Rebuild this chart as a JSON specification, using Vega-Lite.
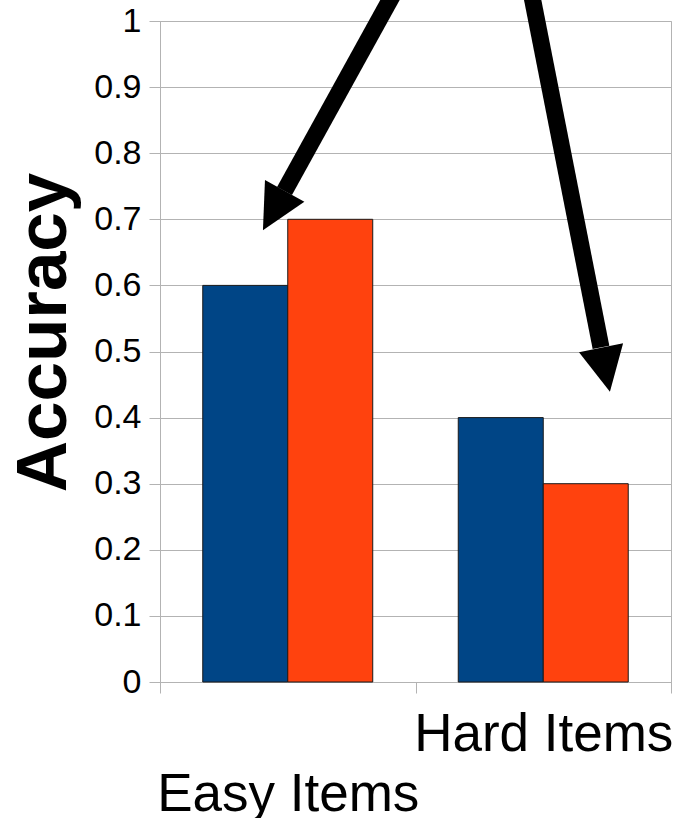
{
  "$schema": "https://vega.github.io/schema/vega-lite/v6.json",
  "width": 511,
  "height": 661,
  "autosize": "none",
  "padding": {"left": 160, "top": 21, "right": 4, "bottom": 136},
  "background": "white",
  "config": {
    "font": "Liberation Sans",
    "view": {"stroke": "#b3b3b3", "strokeWidth": 1}
  },
  "datasets": {
    "accuracy": [
      {"item": "Easy Items", "series": "Series 1", "accuracy": 0.6},
      {"item": "Easy Items", "series": "Series 2", "accuracy": 0.7},
      {"item": "Hard Items", "series": "Series 1", "accuracy": 0.4},
      {"item": "Hard Items", "series": "Series 2", "accuracy": 0.3}
    ],
    "arrows": [
      {"arrow": "easy", "x0": 0.9217, "y0": 1.0469, "x1": 0.4873, "y1": 0.7428, "hx": 0.4454, "hy": 0.7133},
      {"arrow": "hard", "x0": 1.4509, "y0": 1.0469, "x1": 1.726, "y1": 0.5061, "hx": 1.7436, "hy": 0.4724}
    ]
  },
  "layer": [
    {
      "data": {"name": "accuracy"},
      "mark": {"type": "bar", "stroke": "#1a1a1a", "strokeWidth": 1},
      "encoding": {
        "x": {
          "field": "item",
          "type": "nominal",
          "sort": ["Easy Items", "Hard Items"],
          "scale": {"paddingInner": 0, "paddingOuter": 0},
          "axis": {
            "title": null,
            "labelAngle": 0,
            "labelFont": "Liberation Sans",
            "labelFontSize": 53,
            "labelColor": "black",
            "labelBaseline": "alphabetic",
            "labelOverlap": false,
            "labelBound": false,
            "labelFlush": false,
            "labelLimit": 0,
            "labelPadding": {"condition": {"test": "datum.value === 'Easy Items'", "value": 117}, "value": 57},
            "tickBand": "extent",
            "tickSize": 11,
            "tickColor": "#b3b3b3",
            "domainColor": "#b3b3b3"
          }
        },
        "xOffset": {
          "field": "series",
          "type": "nominal",
          "scale": {"paddingInner": 0, "paddingOuter": 0.503}
        },
        "y": {
          "field": "accuracy",
          "type": "quantitative",
          "scale": {"domain": [0, 1], "nice": false},
          "axis": {
            "values": [0, 0.1, 0.2, 0.3, 0.4, 0.5, 0.6, 0.7, 0.8, 0.9, 1],
            "format": ".1~f",
            "grid": true,
            "gridColor": "#b3b3b3",
            "domainColor": "#b3b3b3",
            "tickColor": "#b3b3b3",
            "tickSize": 11,
            "labelPadding": 8,
            "labelFont": "Liberation Sans",
            "labelFontSize": 34,
            "labelColor": "black",
            "labelFlush": false,
            "labelBound": false,
            "title": "Accuracy",
            "titleFont": "Liberation Sans",
            "titleFontSize": 71,
            "titleFontWeight": "bold",
            "titleColor": "black",
            "titleAngle": 270,
            "titleAlign": "center",
            "titleBaseline": "alphabetic",
            "titleX": -95,
            "titleY": 311
          }
        },
        "color": {
          "field": "series",
          "type": "nominal",
          "scale": {"domain": ["Series 1", "Series 2"], "range": ["#004586", "#ff420e"]},
          "legend": null
        }
      }
    },
    {
      "data": {"name": "arrows"},
      "mark": {"type": "rule", "color": "black", "strokeWidth": 17, "strokeCap": "butt"},
      "encoding": {
        "x": {"field": "x0", "type": "quantitative", "scale": {"domain": [0, 2], "nice": false, "zero": false}, "axis": null},
        "x2": {"field": "x1"},
        "y": {"field": "y0", "type": "quantitative", "scale": {"domain": [0, 1], "nice": false}, "axis": null},
        "y2": {"field": "y1"}
      }
    },
    {
      "data": {"name": "arrows"},
      "transform": [{"filter": "datum.arrow === 'easy'"}],
      "mark": {"type": "point", "shape": "M-1,-1L1,-1L0,1Z", "size": 2025, "filled": true, "color": "black", "opacity": 1, "angle": 28.9},
      "encoding": {
        "x": {"field": "hx", "type": "quantitative", "scale": {"domain": [0, 2], "nice": false, "zero": false}, "axis": null},
        "y": {"field": "hy", "type": "quantitative", "scale": {"domain": [0, 1], "nice": false}, "axis": null}
      }
    },
    {
      "data": {"name": "arrows"},
      "transform": [{"filter": "datum.arrow === 'hard'"}],
      "mark": {"type": "point", "shape": "M-1,-1L1,-1L0,1Z", "size": 2025, "filled": true, "color": "black", "opacity": 1, "angle": -11.4},
      "encoding": {
        "x": {"field": "hx", "type": "quantitative", "scale": {"domain": [0, 2], "nice": false, "zero": false}, "axis": null},
        "y": {"field": "hy", "type": "quantitative", "scale": {"domain": [0, 1], "nice": false}, "axis": null}
      }
    }
  ],
  "resolve": {
    "scale": {"x": "independent", "y": "independent"},
    "axis": {"x": "independent", "y": "independent"}
  }
}
